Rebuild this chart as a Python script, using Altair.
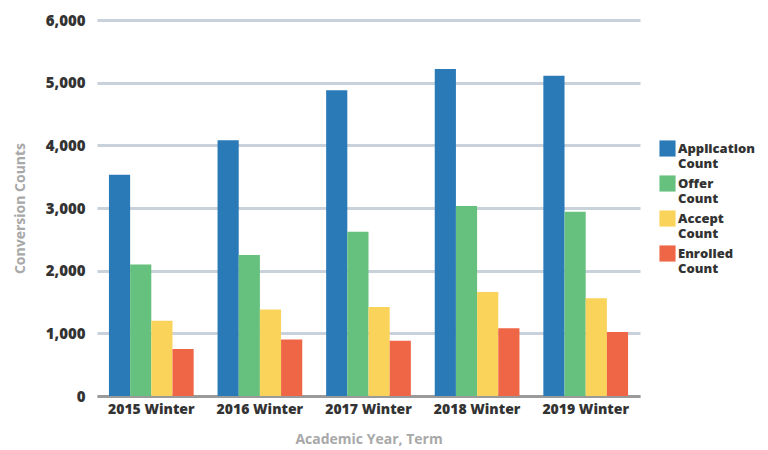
import altair as alt
import pandas as pd

terms = ["2015 Winter", "2016 Winter", "2017 Winter", "2018 Winter", "2019 Winter"]
series = ["Application Count", "Offer Count", "Accept Count", "Enrolled Count"]
application = [3530, 4080, 4880, 5220, 5110]
offer = [2100, 2250, 2620, 3030, 2940]
accept = [1200, 1380, 1420, 1660, 1560]
enrolled = [750, 900, 880, 1080, 1020]
colors = ["#2a7ab8", "#66c17e", "#f9d35a", "#ef6647"]

rows = []
for vals, s in zip([application, offer, accept, enrolled], series):
    for t, v in zip(terms, vals):
        rows.append({"term": t, "series": s, "value": v})
df = pd.DataFrame(rows)

FONT = "Open Sans"

chart = alt.Chart(df).mark_bar().encode(
    x=alt.X("term:N", sort=terms,
            scale=alt.Scale(paddingInner=0.22, paddingOuter=0.11),
            axis=alt.Axis(title="Academic Year, Term", labelAngle=0, ticks=False,
                          domainColor="#9a9a9a", domainWidth=3,
                          labelFont=FONT, labelFontSize=14, labelFontWeight=800,
                          labelColor="#333333", labelPadding=6,
                          titleFont=FONT, titleFontSize=14, titleFontWeight="bold",
                          titleColor="#a8a8a8", titlePadding=16)),
    xOffset=alt.XOffset("series:N", sort=series, scale=alt.Scale(paddingInner=0, paddingOuter=0)),
    y=alt.Y("value:Q", scale=alt.Scale(domain=[0, 6000]),
            axis=alt.Axis(title="Conversion Counts", values=[0, 1000, 2000, 3000, 4000, 5000, 6000],
                          format=",d", domain=False, ticks=False,
                          gridColor="#c9d1db", gridWidth=3,
                          labelFont=FONT, labelFontSize=15, labelFontWeight=800,
                          labelColor="#333333", labelPadding=12,
                          titleFont=FONT, titleFontSize=14, titleFontWeight="bold",
                          titleColor="#a8a8a8", titlePadding=18)),
    color=alt.Color("series:N", sort=series,
                    scale=alt.Scale(domain=series, range=colors),
                    legend=alt.Legend(title=None, orient="none", legendX=562, legendY=120,
                                      symbolType="square", symbolSize=260, symbolStrokeWidth=0,
                                      labelExpr="split(datum.label, ' ')",
                                      labelFont=FONT, labelFontSize=13, labelFontWeight=800,
                                      labelColor="#333333", rowPadding=4, labelOffset=2,
                                      labelLimit=200)),
).properties(
    width=543, height=376,
    padding={"left": 89, "top": 12, "right": 120, "bottom": 50},
    autosize=alt.AutoSizeParams(type="none"),
).configure_view(stroke=None)

chart.save("out.html", embed_options={"renderer": "svg", "actions": False})
